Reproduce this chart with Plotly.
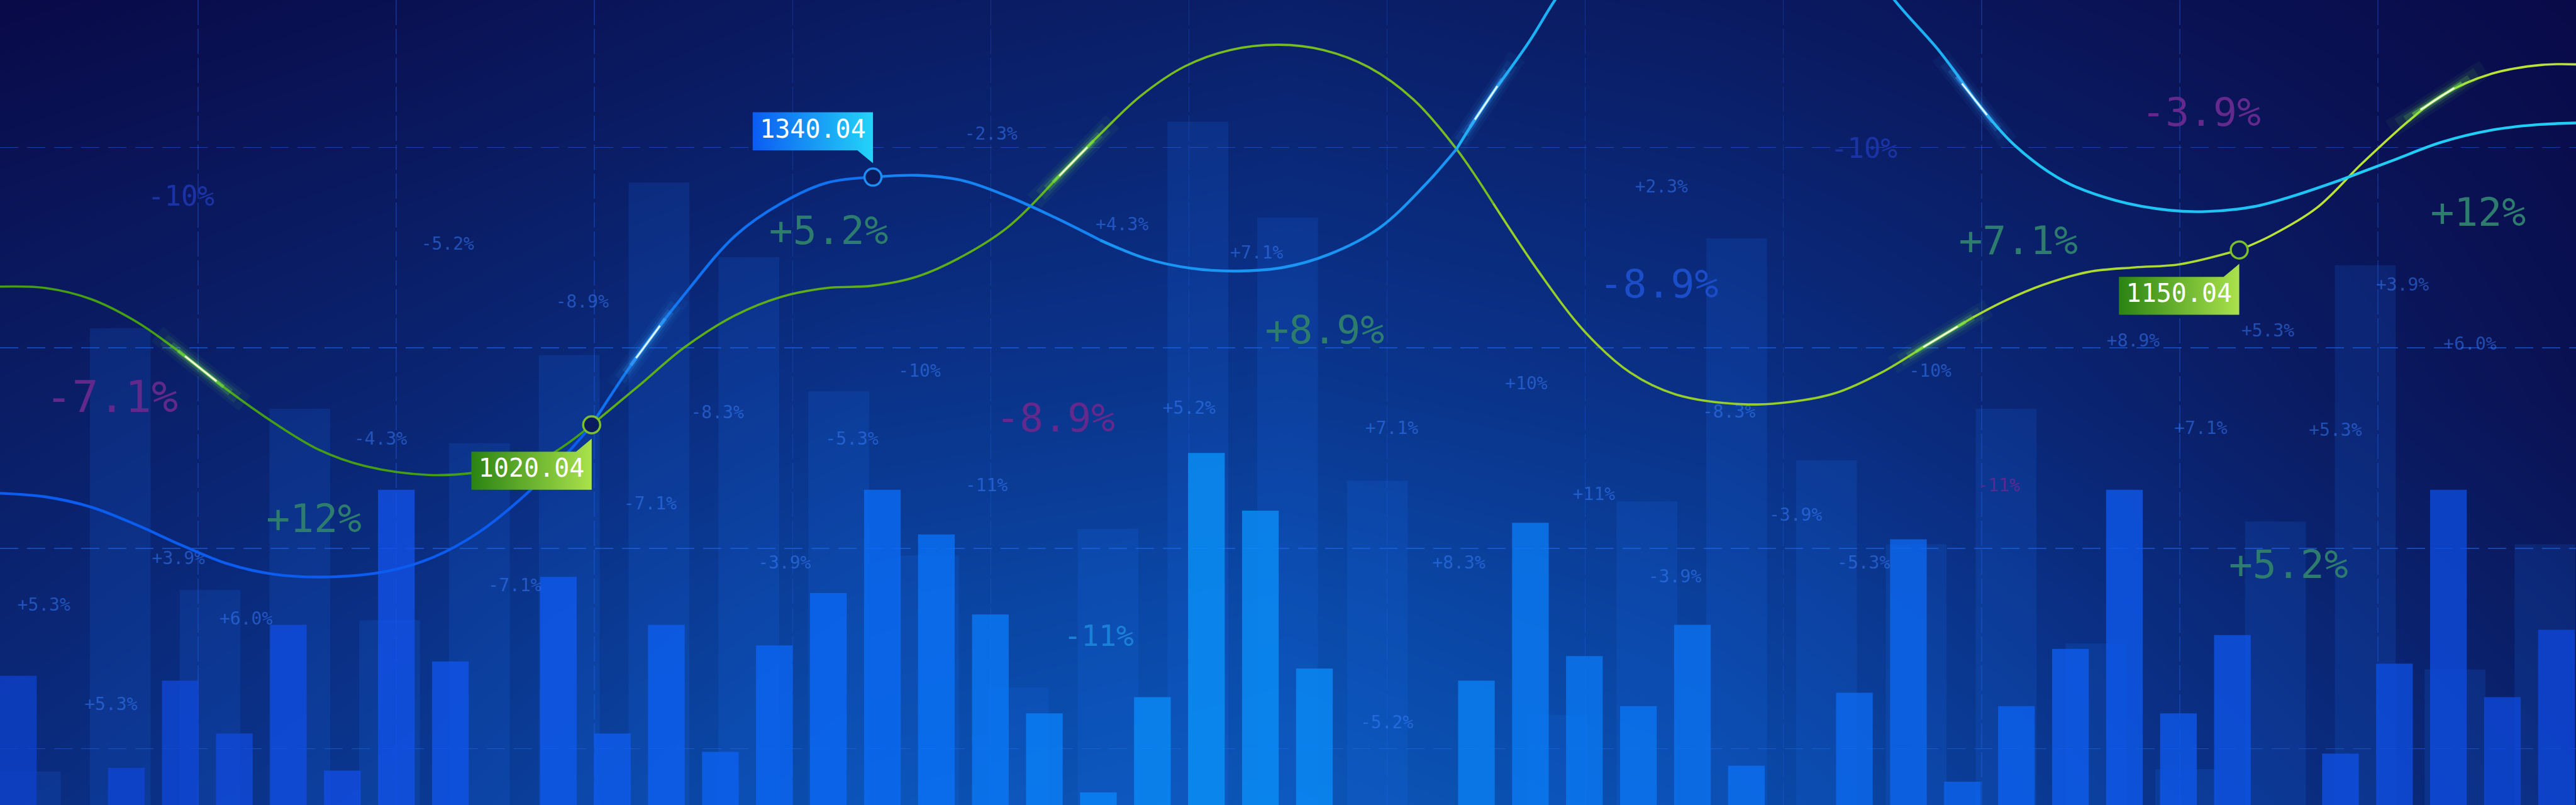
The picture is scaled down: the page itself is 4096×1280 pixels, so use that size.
import numpy as np
import plotly.graph_objects as go
from plotly.colors import sample_colorscale

# ------------------------------------------------------------------
# canvas: chart units follow the reference grid (5760 x 1800), drawn at 0.711
# ------------------------------------------------------------------
WIDTH, HEIGHT = 4096, 1280
X_SPAN, Y_SPAN = 5760, 1800

# ------------------------------ data ------------------------------
# front (narrow, bright) bars, one per slot
FRONT_H = [289, 0, 83, 278, 160, 403, 77, 705, 321, 0, 510, 160, 403, 119, 357, 474,
           705, 605, 426, 205, 28, 241, 787, 658, 305, 0, 0, 278, 631, 333, 221, 403,
           88, 0, 251, 594, 52, 221, 349, 705, 205, 380, 0, 115, 316, 705, 241, 392]
# back (wide, faint) bars
BACK_H = [75, 1066, 481, 886, 413, 809, 1006, 1392, 1225, 925, 558, 263, 617, 1528,
          1313, 725, 0, 201, 679, 1267, 771, 583, 886, 361, 80, 634, 1207, 303, 583]

# blue price line
BLUE_X = [0, 102, 204, 306, 408, 510, 612, 735, 867, 969, 1071, 1173, 1275, 1323,
          1428, 1530, 1644, 1746, 1848, 1952, 2052, 2154, 2256, 2358, 2460, 2562,
          2664, 2767, 2869, 2971, 3084, 3186, 3257, 3318, 3420, 3477, 3560, 3680,
          3800, 3870, 3950, 4060, 4160, 4236, 4337, 4415, 4505, 4617, 4730, 4850,
          4932, 5040, 5122, 5235, 5347, 5459, 5571, 5670, 5760]
BLUE_Y = [697, 689, 666, 626, 580, 539, 516, 510, 523, 554, 610, 692, 794, 850,
          1008, 1141, 1273, 1345, 1391, 1404, 1408, 1396, 1360, 1314, 1263, 1222,
          1200, 1194, 1202, 1231, 1290, 1386, 1467, 1563, 1708, 1800, 1915, 2030,
          2100, 2110, 2095, 2020, 1910, 1800, 1685, 1578, 1475, 1394, 1352, 1330,
          1327, 1338, 1360, 1398, 1440, 1482, 1509, 1521, 1525]

# green price line
GREEN_X = [0, 102, 204, 306, 408, 510, 612, 714, 816, 959, 1061, 1204, 1323, 1428,
           1530, 1644, 1746, 1848, 1950, 2052, 2154, 2256, 2358, 2460, 2550, 2650,
           2750, 2859, 2960, 3060, 3160, 3258, 3339, 3441, 3543, 3645, 3747, 3900,
           4002, 4104, 4207, 4309, 4411, 4480, 4568, 4670, 4772, 4874, 5007, 5078,
           5180, 5282, 5384, 5459, 5571, 5684, 5760]
GREEN_Y = [1159, 1156, 1131, 1080, 1008, 927, 855, 794, 758, 738, 743, 770, 850, 937,
           1023, 1095, 1136, 1156, 1161, 1182, 1228, 1294, 1396, 1500, 1585, 1652,
           1688, 1700, 1688, 1650, 1578, 1465, 1345, 1192, 1059, 967, 918, 896,
           901, 921, 967, 1029, 1090, 1126, 1163, 1192, 1202, 1209, 1241, 1273,
           1335, 1435, 1528, 1586, 1635, 1655, 1656]

# highlighted points with value tags
MARK_X = [1323, 1952, 5007]
MARK_Y = [850, 1404, 1241]
MARK_TEXT = ["1020.04", "1340.04", "1150.04"]
MARK_SERIES = ["green", "blue", "green"]
MARK_SIDE = ["below", "above", "below"]

# floating percentage labels
PCT_TEXT = ["-5.2%", "-8.9%", "-4.3%", "+3.9%", "-7.1%", "-7.1%", "+5.3%", "+6.0%",
            "+5.3%", "-2.3%", "+4.3%", "+7.1%", "-10%", "-8.3%", "-5.3%", "+5.2%",
            "-11%", "-3.9%", "+2.3%", "+10%", "+7.1%", "-8.3%", "-10%", "+11%",
            "-3.9%", "+8.3%", "-3.9%", "-5.3%", "-5.2%", "+3.9%", "+5.3%", "+8.9%",
            "+6.0%", "+7.1%", "+5.3%",
            "-11%",
            "+12%", "+5.2%", "+8.9%", "+7.1%", "+12%", "+5.2%",
            "-8.9%", "-3.9%", "-7.1%",
            "-8.9%",
            "-10%", "-10%",
            "-11%"]
PCT_X = [1001, 1302, 851, 399, 1151, 1454, 98, 550,
         248, 2216, 2509, 2810, 2056, 1604, 1905, 2659,
         2206, 1754, 3715, 3413, 3112, 3866, 4316, 3564,
         4015, 3262, 3745, 4167, 3101, 5372, 5071, 4770,
         5523, 4921, 5222,
         4469,
         702, 1853, 2962, 4513, 5541, 5117,
         2360, 4922, 250,
         3709,
         405, 4168,
         2457]
PCT_Y = [1252, 1122, 815, 549, 488, 671, 445, 414,
         222, 1497, 1295, 1232, 968, 875, 815, 884,
         711, 539, 1380, 940, 840, 876, 968, 692,
         645, 539, 507, 539, 182, 1160, 1058, 1035,
         1028, 840, 835,
         712,
         632, 1276, 1055, 1254, 1317, 530,
         857, 1541, 904,
         1157,
         1355, 1463,
         372]
PCT_KIND = ["small"] * 35 + ["small_purple"] + ["big_green"] * 6 + \
           ["big_purple", "big_purple", "huge_purple"] + ["big_blue"] + \
           ["mid_dark", "mid_dark"] + ["mid_cyan"]

# background brightness field (rows bottom -> top)
BG_X = [0, 960, 1920, 2880, 3840, 4800, 5760]
BG_Y = [0, 450, 900, 1350, 1800]
BG_Z = [[0.46, 0.62, 0.86, 0.93, 0.82, 0.56, 0.34],
        [0.36, 0.52, 0.72, 0.80, 0.68, 0.46, 0.24],
        [0.27, 0.38, 0.55, 0.60, 0.52, 0.33, 0.13],
        [0.16, 0.26, 0.38, 0.45, 0.38, 0.25, 0.08],
        [0.02, 0.12, 0.24, 0.30, 0.24, 0.13, 0.03]]

# where the light streaks sit on each curve
GLOW_AT = {"green": [449, 2400, 4339, 5450], "blue": [1449, 3323, 4415]}

# ------------------------------ styles ------------------------------
FONT = "DejaVu Sans Mono"
BG_SCALE = [[0, "#090845"], [0.25, "#0a1b62"], [0.5, "#0a2f84"],
            [0.75, "#0a45a3"], [1, "#0b5cc0"]]
FRONT_SCALE = [[0, "#0e40c8"], [0.15, "#1150e6"], [0.34, "#0a6bf5"],
               [0.47, "#0a92f8"], [0.59, "#0a7cf2"], [0.82, "#0e5aec"],
               [1, "#0e45d6"]]
BLUE_SCALE = [[0, "#0a50ee"], [0.23, "#0c68f0"], [0.35, "#157ef2"],
              [0.47, "#1890f3"], [0.57, "#1aa2f5"], [0.77, "#1ebff4"], [1, "#22d0f5"]]
GREEN_SCALE = [[0, "#3a9612"], [0.25, "#55a816"], [0.5, "#78bc20"],
               [0.75, "#a4d62e"], [1, "#c2e63c"]]
BLUE_SPLITS = [1323, 1952, 2460, 3257, 4415, 5235]
GREEN_SPLITS = [1323, 2358, 3339, 4411, 5007]
TEXT_STYLE = {
    "small": (28, "rgba(60,130,255,0.5)"),
    "small_purple": (28, "#582a94"),
    "big_green": (63, "#2e7c6e"),
    "big_purple": (63, "#64298c"),
    "huge_purple": (70, "#62298c"),
    "big_blue": (63, "#1b4dc9"),
    "mid_dark": (44, "#1c33a6"),
    "mid_cyan": (46, "#1c80d8"),
}
TAG_GRAD = {"green": [[0, "#2a8312"], [1, "#aae24c"]],
            "blue": [[0, "#0b5cf2"], [1, "#23d4f8"]]}
RING = {"green": "#7cbf2c", "blue": "#1c8ef5"}
GLOW_RGB = {"green": ((120, 235, 80), (240, 255, 215)),
            "blue": ((60, 170, 255), (220, 246, 255))}
# (width px, alpha, half-length in chart units, 0=halo / 1=core)
GLOW_LAYERS = [(30, 0.05, 125, 0), (20, 0.09, 105, 0), (12, 0.18, 85, 0),
               (6, 0.45, 65, 0), (3, 1.0, 45, 1)]

fig = go.Figure()

# background gradient (own subplot, underneath the grid)
fig.add_trace(go.Heatmap(x=BG_X, y=BG_Y, z=BG_Z, colorscale=BG_SCALE, zmin=0, zmax=1,
                         zsmooth="best", showscale=False, hoverinfo="skip",
                         xaxis="x", yaxis="y"))

# bars
back_x = np.arange(len(BACK_H)) * 200.8 + 68
front_x = np.arange(len(FRONT_H)) * 120.75 + 41
fig.add_trace(go.Bar(x=back_x, y=BACK_H, width=136, xaxis="x2", yaxis="y2",
                     marker=dict(color="rgba(25,110,245,0.16)", line=dict(width=0)),
                     hoverinfo="skip", showlegend=False))
fig.add_trace(go.Bar(x=front_x, y=FRONT_H, width=82, xaxis="x2", yaxis="y2",
                     marker=dict(color=front_x / X_SPAN, colorscale=FRONT_SCALE,
                                 cmin=0, cmax=1, opacity=0.8, line=dict(width=0)),
                     hoverinfo="skip", showlegend=False))

# percentage labels
for kind, (size, color) in TEXT_STYLE.items():
    sel = [i for i, k in enumerate(PCT_KIND) if k == kind]
    fig.add_trace(go.Scatter(
        x=[PCT_X[i] for i in sel], y=[PCT_Y[i] for i in sel],
        text=[PCT_TEXT[i] for i in sel], mode="text", textposition="middle center",
        textfont=dict(family=FONT, size=size, color=color),
        xaxis="x2", yaxis="y2", hoverinfo="skip", showlegend=False))


def gradient_curve(xs, ys, splits, scale, width):
    cut = [0] + [xs.index(s) for s in splits] + [len(xs) - 1]
    for a, b in zip(cut[:-1], cut[1:]):
        frac = (xs[a] + xs[b]) / 2 / X_SPAN
        col = sample_colorscale(scale, [min(max(frac, 0), 1)])[0]
        fig.add_trace(go.Scatter(x=xs[a:b + 1], y=ys[a:b + 1], mode="lines",
                                 line=dict(color=col, width=width, shape="spline",
                                           smoothing=1.0),
                                 xaxis="x2", yaxis="y2", hoverinfo="skip",
                                 showlegend=False))


gradient_curve(GREEN_X, GREEN_Y, GREEN_SPLITS, GREEN_SCALE, 3.6)
gradient_curve(BLUE_X, BLUE_Y, BLUE_SPLITS, BLUE_SCALE, 4.4)

# light streaks
CURVES = {"green": (GREEN_X, GREEN_Y), "blue": (BLUE_X, BLUE_Y)}
for series, xs_at in GLOW_AT.items():
    cx_all, cy_all = CURVES[series]
    rgbs = GLOW_RGB[series]
    for x0 in xs_at:
        y0 = np.interp(x0, cx_all, cy_all)
        d = np.array([80.0, np.interp(x0 + 40, cx_all, cy_all) - np.interp(x0 - 40, cx_all, cy_all)])
        d /= np.hypot(*d)
        for w, a, L, which in GLOW_LAYERS:
            rgb = rgbs[which]
            fig.add_trace(go.Scatter(
                x=[x0 - d[0] * L, x0 + d[0] * L], y=[y0 - d[1] * L, y0 + d[1] * L],
                mode="lines", line=dict(color="rgba(%d,%d,%d,%.2f)" % (*rgb, a), width=w),
                xaxis="x2", yaxis="y2", hoverinfo="skip", showlegend=False))

# highlighted points
fig.add_trace(go.Scatter(x=MARK_X, y=MARK_Y, mode="markers",
                         marker=dict(size=27, color="#0a1c5e",
                                     line=dict(width=3.5, color=[RING[s] for s in MARK_SERIES])),
                         xaxis="x2", yaxis="y2", hoverinfo="skip", showlegend=False))

# value tags
BOX_W, BOX_H, GAP, TAIL_W, TAIL_H = 269, 85, 60, 35, 29
for x, y, txt, s, side in zip(MARK_X, MARK_Y, MARK_TEXT, MARK_SERIES, MARK_SIDE):
    left = x - BOX_W
    if side == "below":
        top, bot = y - GAP, y - GAP - BOX_H
        px = [left, left, x - TAIL_W, x, x, left]
        py = [bot, top, top, top + TAIL_H, bot, bot]
    else:
        bot, top = y + GAP, y + GAP + BOX_H
        px = [left, x, x, x - TAIL_W, left, left]
        py = [top, top, bot - TAIL_H, bot, bot, top]
    fig.add_trace(go.Scatter(x=px, y=py, mode="lines", fill="toself",
                             line=dict(width=0, color="rgba(0,0,0,0)"),
                             fillgradient=dict(type="horizontal", colorscale=TAG_GRAD[s]),
                             xaxis="x2", yaxis="y2", hoverinfo="skip", showlegend=False))
    fig.add_trace(go.Scatter(x=[x - BOX_W / 2], y=[(top + bot) / 2], text=[txt],
                             mode="text", textposition="middle center",
                             textfont=dict(family=FONT, size=40, color="#ffffff"),
                             xaxis="x2", yaxis="y2", hoverinfo="skip", showlegend=False))

hidden = dict(visible=False, fixedrange=True)
fig.update_layout(
    width=WIDTH, height=HEIGHT, margin=dict(l=0, r=0, t=0, b=0, pad=0),
    paper_bgcolor="#0a1a60", plot_bgcolor="rgba(0,0,0,0)",
    showlegend=False, barmode="overlay",
    xaxis=dict(domain=[0, 1], range=[0, X_SPAN], anchor="y", **hidden),
    yaxis=dict(domain=[0, 1], range=[0, Y_SPAN], anchor="x", **hidden),
    xaxis2=dict(domain=[0, 1], range=[0, X_SPAN], anchor="y2", fixedrange=True,
                showgrid=True, gridcolor="rgba(40,100,235,0.32)", gridwidth=1.5,
                griddash="40px,6px", tick0=0, dtick=443.08,
                showticklabels=False, ticks="", zeroline=False, showline=False),
    yaxis2=dict(domain=[0, 1], range=[0, Y_SPAN], anchor="x2", fixedrange=True,
                showgrid=True, gridcolor="rgba(40,110,245,0.5)", gridwidth=1.6,
                griddash="29px,14px", tick0=126, dtick=448,
                showticklabels=False, ticks="", zeroline=False, showline=False),
)

fig.write_html("out.html", config={"displayModeBar": False, "staticPlot": True},
               post_script="document.body.style.margin='0';document.body.style.overflow='hidden';")
